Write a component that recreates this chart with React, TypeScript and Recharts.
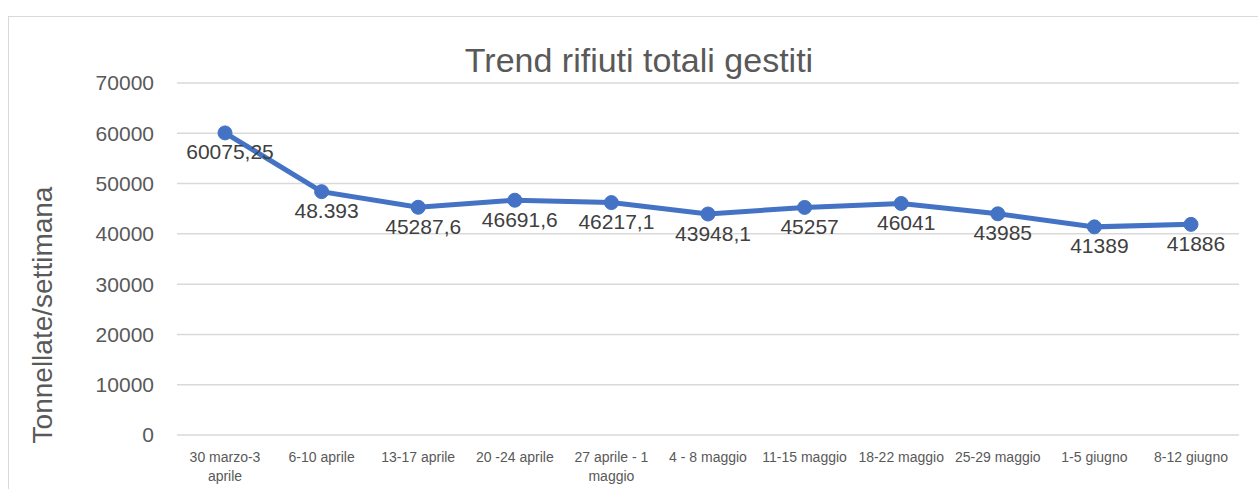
import React from 'react';
import { LineChart, Line, XAxis, YAxis, CartesianGrid, LabelList, Text } from 'recharts';

const categories = [
  '30 marzo-3 aprile',
  '6-10 aprile',
  '13-17 aprile',
  '20 -24 aprile',
  '27 aprile - 1 maggio',
  '4 - 8 maggio',
  '11-15 maggio',
  '18-22 maggio',
  '25-29 maggio',
  '1-5 giugno',
  '8-12 giugno',
];

const values = [60075.25, 48393, 45287.6, 46691.6, 46217.1, 43948.1, 45257, 46041, 43985, 41389, 41886];

const valueLabels = [
  '60075,25',
  '48.393',
  '45287,6',
  '46691,6',
  '46217,1',
  '43948,1',
  '45257',
  '46041',
  '43985',
  '41389',
  '41886',
];

const yTicks = [0, 10000, 20000, 30000, 40000, 50000, 60000, 70000];

const title = 'Trend rifiuti totali gestiti';
const yTitle = 'Tonnellate/settimana';

const data = categories.map((c, i) => ({ name: c, value: values[i], label: valueLabels[i] }));

const FONT = "'Liberation Sans', Arial, sans-serif";

const XTick = (props: any) => {
  const { x, y, payload } = props;
  return (
    <Text
      x={x}
      y={y + 17}
      width={95}
      textAnchor="middle"
      verticalAnchor="start"
      lineHeight="19px"
      fill="#595959"
      fontSize={14}
      fontFamily={FONT}
    >
      {payload.value}
    </Text>
  );
};

const DataLabel = (props: any) => {
  const { x, y, value } = props;
  return (
    <text x={x + 5} y={y + 26.5} textAnchor="middle" fill="#404040" fontSize={21} fontFamily={FONT}>
      {value}
    </text>
  );
};

export default function App() {
  return (
    <div style={{ position: 'relative', width: 1258, height: 489, overflow: 'hidden' }}>
      <style>{`html,body{margin:0;padding:0;overflow:hidden;background:#fff}`}</style>
      <div
        style={{
          position: 'absolute',
          left: 8,
          top: 16,
          boxSizing: 'border-box',
          width: 1250,
          height: 473,
          borderTop: '1px solid #d9d9d9',
          borderLeft: '1px solid #d9d9d9',
          background: '#fff',
          fontFamily: FONT,
          overflow: 'hidden',
        }}
      >
        <LineChart width={1249} height={472} data={data} margin={{ top: 66, right: 19, bottom: 8, left: 0 }}>
          <CartesianGrid horizontal vertical={false} stroke="#d9d9d9" strokeWidth={1.5} />
          <XAxis
            dataKey="name"
            axisLine={false}
            tickLine={false}
            tickSize={0}
            tickMargin={0}
            height={46}
            interval={0}
            padding={{ left: 48, right: 48 }}
            tick={<XTick />}
          />
          <YAxis
            domain={[0, 70000]}
            ticks={yTicks}
            axisLine={false}
            tickLine={false}
            tickSize={0}
            tickMargin={23}
            width={168}
            tick={{ fill: '#595959', fontSize: 21, fontFamily: FONT }}
            interval={0}
          />
          <Line
            type="linear"
            dataKey="value"
            stroke="#4472C4"
            strokeWidth={5}
            dot={{ r: 7, fill: '#4472C4', stroke: '#4472C4', strokeWidth: 1 }}
            activeDot={false}
            isAnimationActive={false}
          >
            <LabelList dataKey="label" content={<DataLabel />} />
          </Line>
        </LineChart>
        <svg
          width={1249}
          height={472}
          style={{ position: 'absolute', left: 0, top: 0, pointerEvents: 'none' }}
        >
          <text x={630} y={55} textAnchor="middle" fill="#595959" fontSize={34} fontFamily={FONT}>
            {title}
          </text>
          <text
            x={43}
            y={298}
            transform="rotate(-90 43 298)"
            textAnchor="middle"
            fill="#595959"
            fontSize={28}
            fontFamily={FONT}
          >
            {yTitle}
          </text>
        </svg>
      </div>
    </div>
  );
}
